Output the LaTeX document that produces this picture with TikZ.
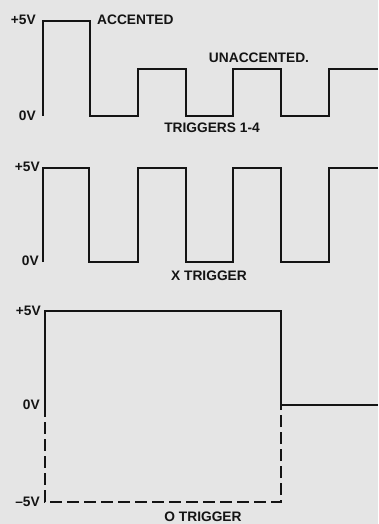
\documentclass[tikz,border=0pt]{standalone}
\usepackage{fontspec}
\setmainfont{Liberation Sans}
\definecolor{bgc}{RGB}{229,229,229}
\definecolor{ink}{RGB}{20,20,20}
\begin{document}
\begin{tikzpicture}[x=1bp,y=-1bp,
  lbl/.style={font=\fontsize{13.8}{15}\selectfont\bfseries, text=ink, inner sep=0pt},
  wave/.style={draw=ink, line width=2bp, line join=miter},
  dwave/.style={wave, dash pattern=on 12bp off 5bp}]
\fill[bgc] (0,0) rectangle (378,524);
\useasboundingbox (0,0) rectangle (378,524);
% panel 1
\draw[wave] (43,116) -- (43,21) -- (90,21) -- (90,116) -- (138,116) -- (138,69) -- (186,69) -- (186,116) -- (233,116) -- (233,69) -- (281,69) -- (281,116) -- (329,116) -- (329,69) -- (378,69);
\node[lbl, anchor=east] (p1hi) at (36,20) {+5V};
\node[lbl, anchor=east] (p1lo) at (36,116) {0V};
\node[lbl, anchor=west] (acc) at (97,20) {ACCENTED};
\node[lbl] (unacc) at (259,58) {UNACCENTED.};
\node[lbl] (t14) at (212,128) {TRIGGERS 1-4};
% panel 2
\draw[wave] (43,262) -- (43,168) -- (89,168) -- (89,262) -- (138,262) -- (138,168) -- (186,168) -- (186,262) -- (233,262) -- (233,168) -- (281,168) -- (281,262) -- (329,262) -- (329,168) -- (378,168);
\node[lbl, anchor=east] (p2hi) at (40,167) {+5V};
\node[lbl, anchor=east] (p2lo) at (39,261) {0V};
\node[lbl] (xt) at (209,276) {X TRIGGER};
% panel 3
\draw[wave] (45,405) -- (45,311) -- (281,311) -- (281,405) -- (378,405);
\draw[dwave] (45,405) -- (45,502) -- (281,502) -- (281,405);
\node[lbl, anchor=east] (p3hi) at (41,311) {+5V};
\node[lbl, anchor=east] (p3lo) at (40,405) {0V};
\node[lbl, anchor=east] (p3neg) at (40,502) {–5V};
\node[lbl] (ot) at (203,517) {O TRIGGER};
\end{tikzpicture}
\end{document}
